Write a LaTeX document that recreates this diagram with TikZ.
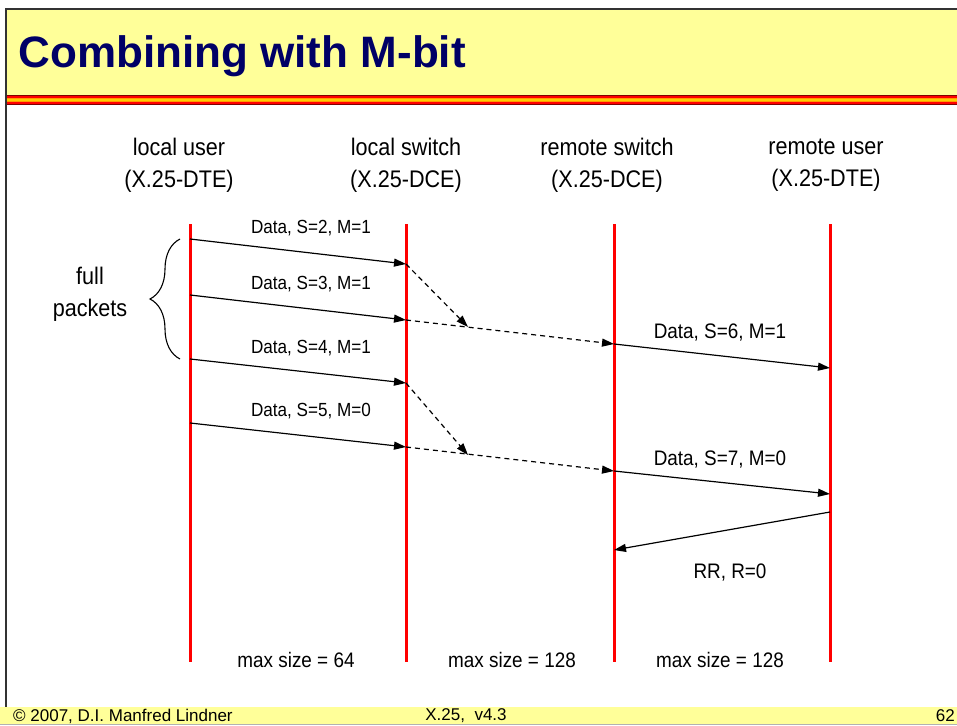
\documentclass[tikz,border=0pt]{standalone}
\usepackage{fontspec}
\setmainfont{Liberation Sans}[FakeStretch=0.9]
\newfontfamily\plainsans{Liberation Sans}
\usepackage{tikz}
\usetikzlibrary{arrows.meta,decorations.pathreplacing,positioning}

\definecolor{slideyellow}{RGB}{255,255,153}
\definecolor{titleblue}{RGB}{0,0,102}
\definecolor{stripedark}{RGB}{128,0,0}
\definecolor{stripeorange}{RGB}{255,153,0}
\definecolor{stripeyellow}{RGB}{255,204,0}

\tikzset{
  lifeline/.style={red, line width=3pt},
  msg/.style={-{Triangle[length=12pt,width=8pt]}, line width=1.2pt},
  fwd/.style={msg, dash pattern=on 5pt off 4pt},
  head/.style={align=center, font=\fontsize{24}{32}\selectfont, inner sep=0pt},
  lbl/.style={font=\fontsize{19}{22}\selectfont, inner sep=0pt},
  biglbl/.style={font=\fontsize{21}{24}\selectfont, inner sep=0pt},
  foot/.style={font=\plainsans\fontsize{17}{19}\selectfont, inner sep=0pt},
}

\begin{document}
\begin{tikzpicture}[x=1pt, y=-1pt]

\useasboundingbox (0,0) rectangle (957,725);

% Frame
  \fill[slideyellow] (6,9) rectangle (957,95);
  \foreach \c [count=\i from 0] in {stripedark,red,stripeorange,stripeyellow,stripeorange,red,stripedark}
    \fill[\c] (7,95+\i*1.43) rectangle (957,95+\i*1.43+1.5);
  \draw[black!80, line width=2pt] (957,9) -- (6,9) -- (6,707);
  \fill[slideyellow] (0,707) rectangle (957,724);
  \draw[black!30] (0,724) -- (957,724);

% Title and footer
  \node[anchor=west, text=titleblue, font=\plainsans\fontsize{44}{50}\selectfont\bfseries] (title) at (15,56) {Combining with M-bit}; %
  \node[foot, anchor=west] (author) at (13,716) {\textcopyright{} 2007, D.I. Manfred Lindner}; %
  \node[foot] (version) at (466,716) {X.25,\ \ v4.3}; %
  \node[foot, anchor=east] (page) at (955,716) {62}; %

% Nodes
  \node[head] (lu) at (179,165) {local user\\(X.25-DTE)}; %
  \node[head] (ls) at (406,165) {local switch\\(X.25-DCE)}; %
  \node[head] (rs) at (607,165) {remote switch\\(X.25-DCE)}; %
  \node[head] (ru) at (826,165) {remote user\\(X.25-DTE)}; %

% Lifelines
  \foreach \n/\x in {lu/190, ls/406, rs/614, ru/830} {
    \coordinate (\n top) at (\x,224);
    \coordinate (\n bot) at (\x,662);
    \draw[lifeline] (\n top) -- (\n bot);
  }

% Message points
  \coordinate (s2 out) at (190,239);
  \coordinate (s2 in)  at (406,264);
  \coordinate (s3 out) at (190,295);
  \coordinate (s3 in)  at (406,320);
  \coordinate (s4 out) at (190,359);
  \coordinate (s4 in)  at (406,383);
  \coordinate (s5 out) at (190,423);
  \coordinate (s5 in)  at (406,447);
  \coordinate (join6)  at (468,327);
  \coordinate (join7)  at (468,455);
  \coordinate (s6 out) at (614,344);
  \coordinate (s6 in)  at (830,368);
  \coordinate (s7 out) at (614,471);
  \coordinate (s7 in)  at (830,494);
  \coordinate (rr out) at (830,512);
  \coordinate (rr in)  at (614,550);
  \coordinate (brace top) at (180,239);
  \coordinate (brace bot) at (180,359);

% Edges
  \draw[msg] (s2 out) -- (s2 in);
  \draw[msg] (s3 out) -- (s3 in);
  \draw[msg] (s4 out) -- (s4 in);
  \draw[msg] (s5 out) -- (s5 in);
  \draw[fwd] (s2 in) -- (join6);
  \draw[fwd] (s3 in) -- (s6 out);
  \draw[fwd] (s4 in) -- (join7);
  \draw[fwd] (s5 in) -- (s7 out);
  \draw[msg] (s6 out) -- (s6 in);
  \draw[msg] (s7 out) -- (s7 in);
  \draw[msg] (rr out) -- (rr in);

% Labels
  \node[lbl] (l2) at (311,228) {Data, S=2, M=1}; %
  \node[lbl] (l3) at (311,284) {Data, S=3, M=1}; %
  \node[lbl] (l4) at (311,348) {Data, S=4, M=1}; %
  \node[lbl] (l5) at (311,411) {Data, S=5, M=0}; %
  \node[biglbl] (l6) at (720,333) {Data, S=6, M=1}; %
  \node[biglbl] (l7) at (720,460) {Data, S=7, M=0}; %
  \node[biglbl] (lrr) at (730,573) {RR, R=0}; %

% Brace
  \draw[line width=1.1pt, decorate, decoration={brace, amplitude=30pt}] (brace bot) -- (brace top);
  \node[head] (full) at (90,294) {full\\packets}; %

% Sizes
  \node[biglbl] (size1) at (296,660) {max size = 64}; %
  \node[biglbl] (size2) at (512,660) {max size = 128}; %
  \node[biglbl] (size3) at (720,660) {max size = 128}; %

\end{tikzpicture}
\end{document}
